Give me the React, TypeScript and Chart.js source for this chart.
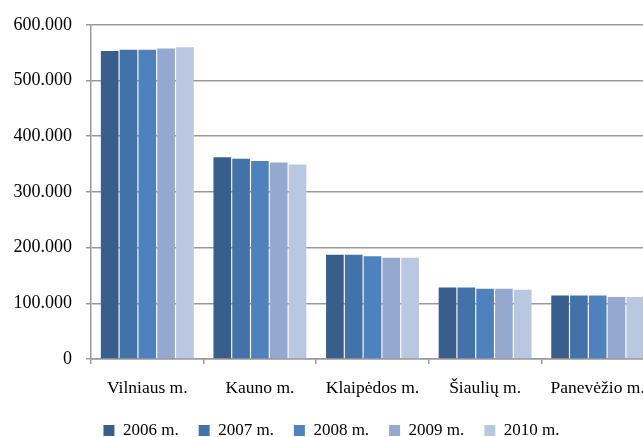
import React, { useEffect, useRef } from "react";
import { Chart, registerables } from "chart.js";

Chart.register(...registerables);

const categories = ["Vilniaus m.", "Kauno m.", "Klaipėdos m.", "Šiaulių m.", "Panevėžio m."];
const seriesNames = ["2006 m.", "2007 m.", "2008 m.", "2009 m.", "2010 m."];
const values2006 = [553000, 362000, 187000, 128500, 114000];
const values2007 = [555000, 359500, 187000, 128500, 114000];
const values2008 = [555000, 355500, 184500, 126000, 114000];
const values2009 = [557500, 353000, 182000, 126000, 111500];
const values2010 = [559500, 349000, 182000, 124500, 111500];
const seriesColors = ["#3A5E8C", "#4372A8", "#4F81BD", "#95A9D0", "#BAC7E0"];
const yMin = 0;
const yMax = 600000;
const yStep = 100000;

const FONT = "'Liberation Serif', 'Times New Roman', serif";

function formatLt(v: number): string {
  const s = Math.round(v).toString();
  return s.replace(/\B(?=(\d{3})+(?!\d))/g, ".");
}

export default function App() {
  const ref = useRef<HTMLCanvasElement | null>(null);

  useEffect(() => {
    if (!ref.current) return;
    const allValues = [values2006, values2007, values2008, values2009, values2010];
    const chart = new Chart(ref.current, {
      type: "bar",
      data: {
        labels: categories,
        datasets: seriesNames.map((name, i) => ({
          label: name,
          data: allValues[i],
          backgroundColor: seriesColors[i],
          borderWidth: 0,
          categoryPercentage: 0.835,
          barPercentage: 0.94,
        })),
      },
      options: {
        animation: false,
        responsive: false,
        maintainAspectRatio: false,
        layout: { padding: { top: 23, left: 9, right: 17, bottom: 0 } },
        plugins: {
          tooltip: { enabled: false },
          legend: {
            position: "bottom",
            align: "center",
            labels: {
              boxWidth: 11,
              boxHeight: 11,
              padding: 20,
              color: "#000",
              font: { family: FONT, size: 17 },
            },
          },
        },
        scales: {
          x: {
            grid: {
              drawOnChartArea: false,
              drawTicks: true,
              tickLength: 5,
              color: "#999",
              lineWidth: 1.5,
            },
            border: { display: true, color: "#999", width: 1.5 },
            ticks: {
              color: "#000",
              font: { family: FONT, size: 17.5 },
              padding: 14,
              maxRotation: 0,
              autoSkip: false,
            },
            afterFit: (scale: any) => {
              scale.height = 43;
            },
          },
          y: {
            min: yMin,
            max: yMax,
            grid: {
              color: "#999",
              lineWidth: 1.5,
              drawTicks: true,
              tickLength: 5,
            },
            border: { display: true, color: "#999", width: 1.5 },
            ticks: {
              stepSize: yStep,
              color: "#000",
              font: { family: FONT, size: 18 },
              padding: 14,
              callback: (v: any) => formatLt(Number(v)),
            },
            afterFit: (scale: any) => {
              scale.width = 82;
            },
          },
        },
      },
    });
    return () => chart.destroy();
  }, []);

  return (
    <div
      style={{
        position: "fixed",
        left: 0,
        top: 0,
        width: 643,
        height: 437,
        overflow: "hidden",
        background: "#fff",
      }}
    >
      <canvas ref={ref} width={671} height={449} style={{ display: "block" }} />
    </div>
  );
}
